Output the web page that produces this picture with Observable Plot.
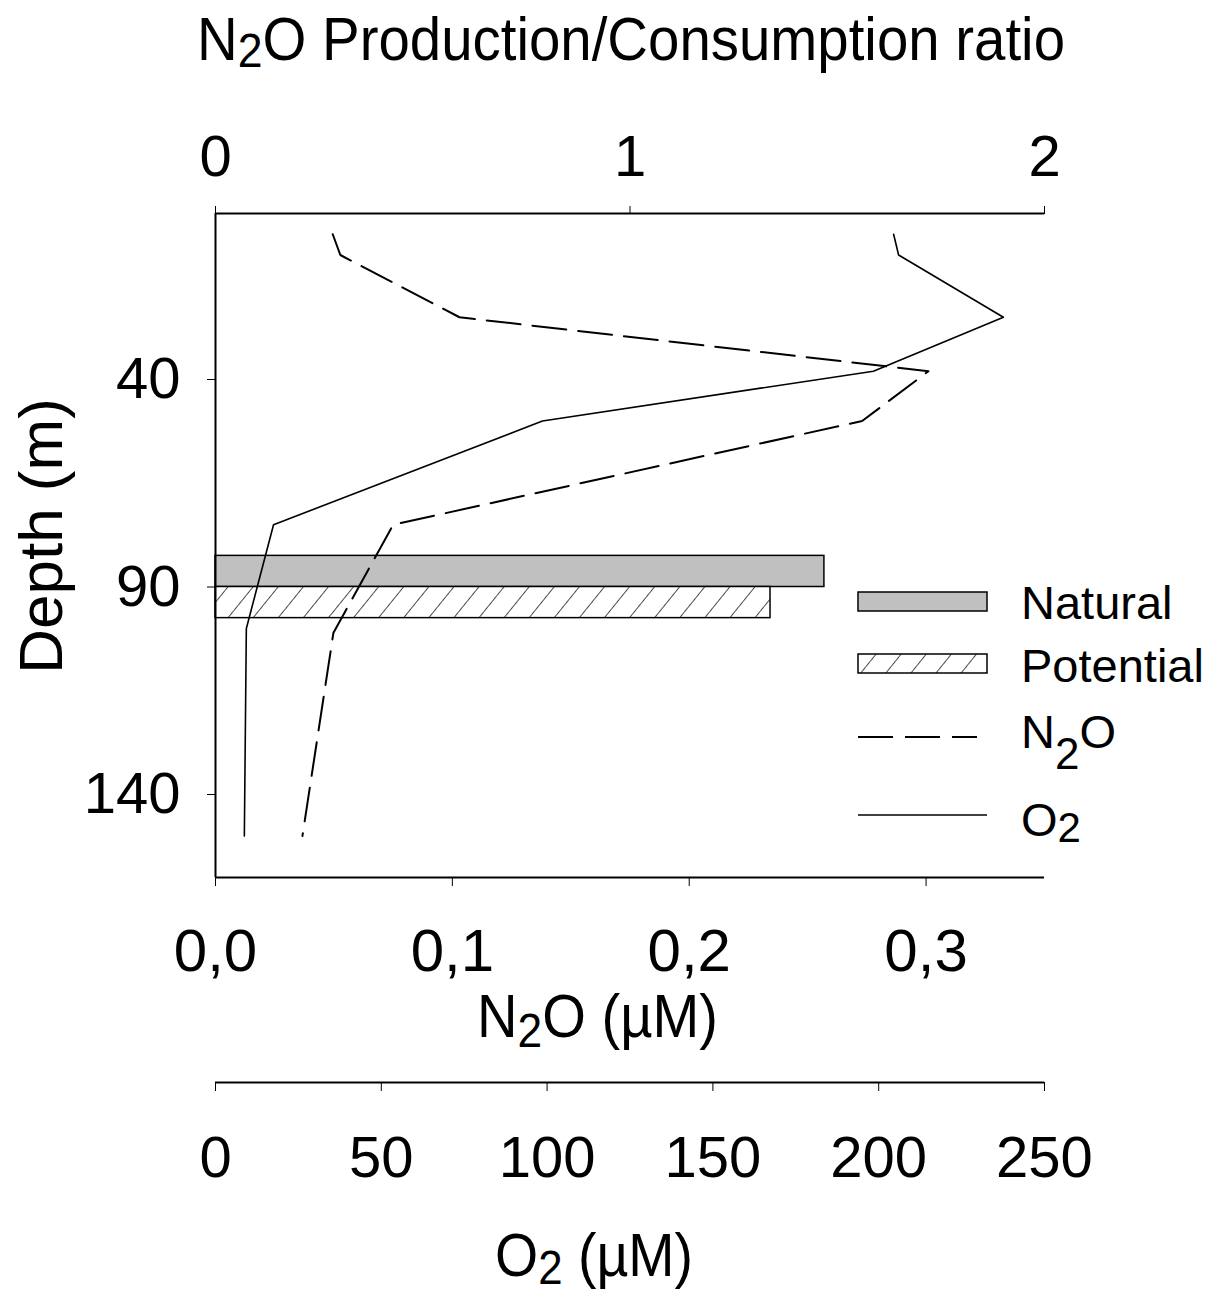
<!DOCTYPE html>
<html>
<head>
<meta charset="utf-8">
<script src="https://cdn.jsdelivr.net/npm/d3@7"></script>
<script src="https://cdn.jsdelivr.net/npm/@observablehq/plot@0.6"></script>
<style>
  html, body { margin: 0; padding: 0; background: #fff; }
  #wrap { position: relative; width: 1207px; height: 1292px; overflow: hidden; font-family: "Liberation Sans", Arial, sans-serif; }
  #wrap > svg, #wrap > .layer { position: absolute; left: 0; }
</style>
</head>
<body>
<div id="wrap"></div>
<script>
// ---------- data ----------
const o2Depth = [5, 10, 25, 38, 50, 75, 100, 150];
const o2Values = [204.5, 206, 237.6, 198.4, 98.6, 17.5, 9.3, 8.7];           // µM
const n2oDepth = [5, 10, 25, 38, 50, 75, 101, 150];
const n2oValues = [0.0495, 0.0527, 0.103, 0.301, 0.273, 0.075, 0.0498, 0.0367]; // µM
const barNames = ["Natural", "Potential"];
const barRatio = [1.469, 1.339];
const barTop = [82.5, 90];
const barBottom = [90, 97.5];
const ratioTicks = [0, 1, 2];
const depthTicks = [40, 90, 140];
const n2oTicks = [0, 0.1, 0.2, 0.3];
const o2Ticks = [0, 50, 100, 150, 200, 250];

// ---------- layout ----------
const W = 1207, H = 1292;
const mL = 215, mR = 163, mT = 213, mB = H - 877;
const font = "'Liberation Sans', Arial, sans-serif";
const wrap = document.getElementById("wrap");

// hatch pattern defs
const NS = "http://www.w3.org/2000/svg";
const defs = document.createElementNS(NS, "svg");
defs.setAttribute("width", 0); defs.setAttribute("height", 0);
defs.style.position = "absolute";
defs.innerHTML = `<defs>
  <pattern id="hatch" patternUnits="userSpaceOnUse" width="19.5" height="40" patternTransform="rotate(39)">
    <rect width="19.5" height="40" fill="#fff"/>
    <line x1="0" y1="-5" x2="0" y2="45" stroke="#000" stroke-width="1.4"/>
  </pattern>
  <pattern id="hatchLeg" patternUnits="userSpaceOnUse" width="19.5" height="40" patternTransform="rotate(39)">
    <rect width="19.5" height="40" fill="#fff"/>
    <line x1="0" y1="-5" x2="0" y2="45" stroke="#000" stroke-width="1.4"/>
  </pattern>
</defs>`;
wrap.appendChild(defs);

const bars = barNames.map((n, i) => ({name: n, ratio: barRatio[i], y1: barTop[i], y2: barBottom[i]}));
const o2 = o2Depth.map((d, i) => ({depth: d, v: o2Values[i]}));
const n2o = n2oDepth.map((d, i) => ({depth: d, v: n2oValues[i]}));

const baseStyle = {fontFamily: font, fontSize: "58px", color: "#000", background: "transparent", overflow: "visible"};
const yScale = {domain: [0, 160], reverse: true};

// Plot A: ratio axis (top), depth axis (left), bars, frame lines
const plotA = Plot.plot({
  width: W, height: H, marginLeft: mL, marginRight: mR, marginTop: mT, marginBottom: mB,
  style: baseStyle,
  x: {domain: [0, 2], axis: "top", ticks: ratioTicks, tickSize: 8, tickPadding: 30, label: null, tickFormat: d3.format("d")},
  y: {...yScale, axis: "left", ticks: depthTicks, tickSize: 8, tickPadding: 27, label: null},
  marks: [
    Plot.rectX(bars, {x1: 0, x2: "ratio", y1: "y1", y2: "y2",
      fill: d => d.name === "Natural" ? "#c0c0c0" : "url(#hatch)", stroke: "#000", strokeWidth: 1.5}),
    Plot.ruleY([0], {stroke: "#000", strokeWidth: 2}),
    Plot.ruleY([160], {stroke: "#000", strokeWidth: 2}),
    Plot.ruleX([0], {stroke: "#000", strokeWidth: 2})
  ]
});

// Plot B: N2O line + bottom axis
const plotB = Plot.plot({
  width: W, height: H, marginLeft: mL, marginRight: mR, marginTop: mT, marginBottom: mB,
  style: {...baseStyle, fontSize: "60px"},
  x: {domain: [0, 0.35], axis: "bottom", ticks: n2oTicks, tickSize: 9, tickPadding: 42, label: null,
      tickFormat: d => d3.format(".1f")(d).replace(".", ",")},
  y: {...yScale, axis: null},
  marks: [
    Plot.line(n2o, {x: "v", y: "depth", stroke: "#000", strokeWidth: 2, strokeDasharray: "34,12"})
  ]
});

// Plot C: O2 line
const plotC = Plot.plot({
  width: W, height: H, marginLeft: mL, marginRight: mR, marginTop: mT, marginBottom: mB,
  style: baseStyle,
  x: {domain: [0, 250], axis: null},
  y: {...yScale, axis: null},
  marks: [
    Plot.line(o2, {x: "v", y: "depth", stroke: "#000", strokeWidth: 1.6})
  ]
});

// Plot D: separate O2 axis
const plotD = Plot.plot({
  width: W, height: 200, marginLeft: mL, marginRight: mR, marginTop: 0, marginBottom: 190,
  style: baseStyle,
  x: {domain: [0, 250], axis: "bottom", ticks: o2Ticks, tickSize: 9, tickPadding: 44, label: null},
  y: {domain: [0, 1], axis: null},
  marks: [Plot.ruleY([0], {stroke: "#000", strokeWidth: 2})]
});

[plotA, plotB, plotC].forEach(p => { p.style.top = "0px"; p.style.position = "absolute"; wrap.appendChild(p); });
plotD.style.position = "absolute"; plotD.style.top = (1082 - 10) + "px";
wrap.appendChild(plotD);

// Titles and legend overlay
const ov = document.createElementNS(NS, "svg");
ov.setAttribute("width", W); ov.setAttribute("height", H);
ov.style.position = "absolute"; ov.style.top = "0px"; ov.style.left = "0px";
ov.setAttribute("font-family", "Liberation Sans, Arial, sans-serif");
ov.innerHTML = `
  <text x="197" y="60" font-size="62" textLength="868" lengthAdjust="spacingAndGlyphs">N<tspan font-size="49" dy="7">2</tspan><tspan dy="-7">O Production/Consumption ratio</tspan></text>
  <text transform="translate(62,536) rotate(-90)" text-anchor="middle" font-size="62">Depth (m)</text>
  <text x="477" y="1037" font-size="62" textLength="241" lengthAdjust="spacingAndGlyphs">N<tspan font-size="49" dy="10">2</tspan><tspan dy="-10">O (µM)</tspan></text>
  <text x="495" y="1276" font-size="62" textLength="198" lengthAdjust="spacingAndGlyphs">O<tspan font-size="49" dy="8">2</tspan><tspan dy="-8"> (µM)</tspan></text>

  <rect x="858" y="592" width="129" height="19" fill="#c0c0c0" stroke="#000" stroke-width="1.5"/>
  <text x="1021" y="619" font-size="47">Natural</text>
  <rect x="858" y="654" width="129" height="19" fill="url(#hatchLeg)" stroke="#000" stroke-width="1.5"/>
  <text x="1021" y="682" font-size="47">Potential</text>
  <line x1="858" y1="737" x2="977" y2="737" stroke="#000" stroke-width="2" stroke-dasharray="35,12"/>
  <text x="1021" y="748" font-size="47">N<tspan font-size="44" dy="21">2</tspan><tspan dy="-21">O</tspan></text>
  <line x1="858" y1="815" x2="987" y2="815" stroke="#000" stroke-width="1.6"/>
  <text x="1021" y="836" font-size="47">O<tspan font-size="42" dy="6">2</tspan></text>
`;
wrap.appendChild(ov);
</script>
</body>
</html>
